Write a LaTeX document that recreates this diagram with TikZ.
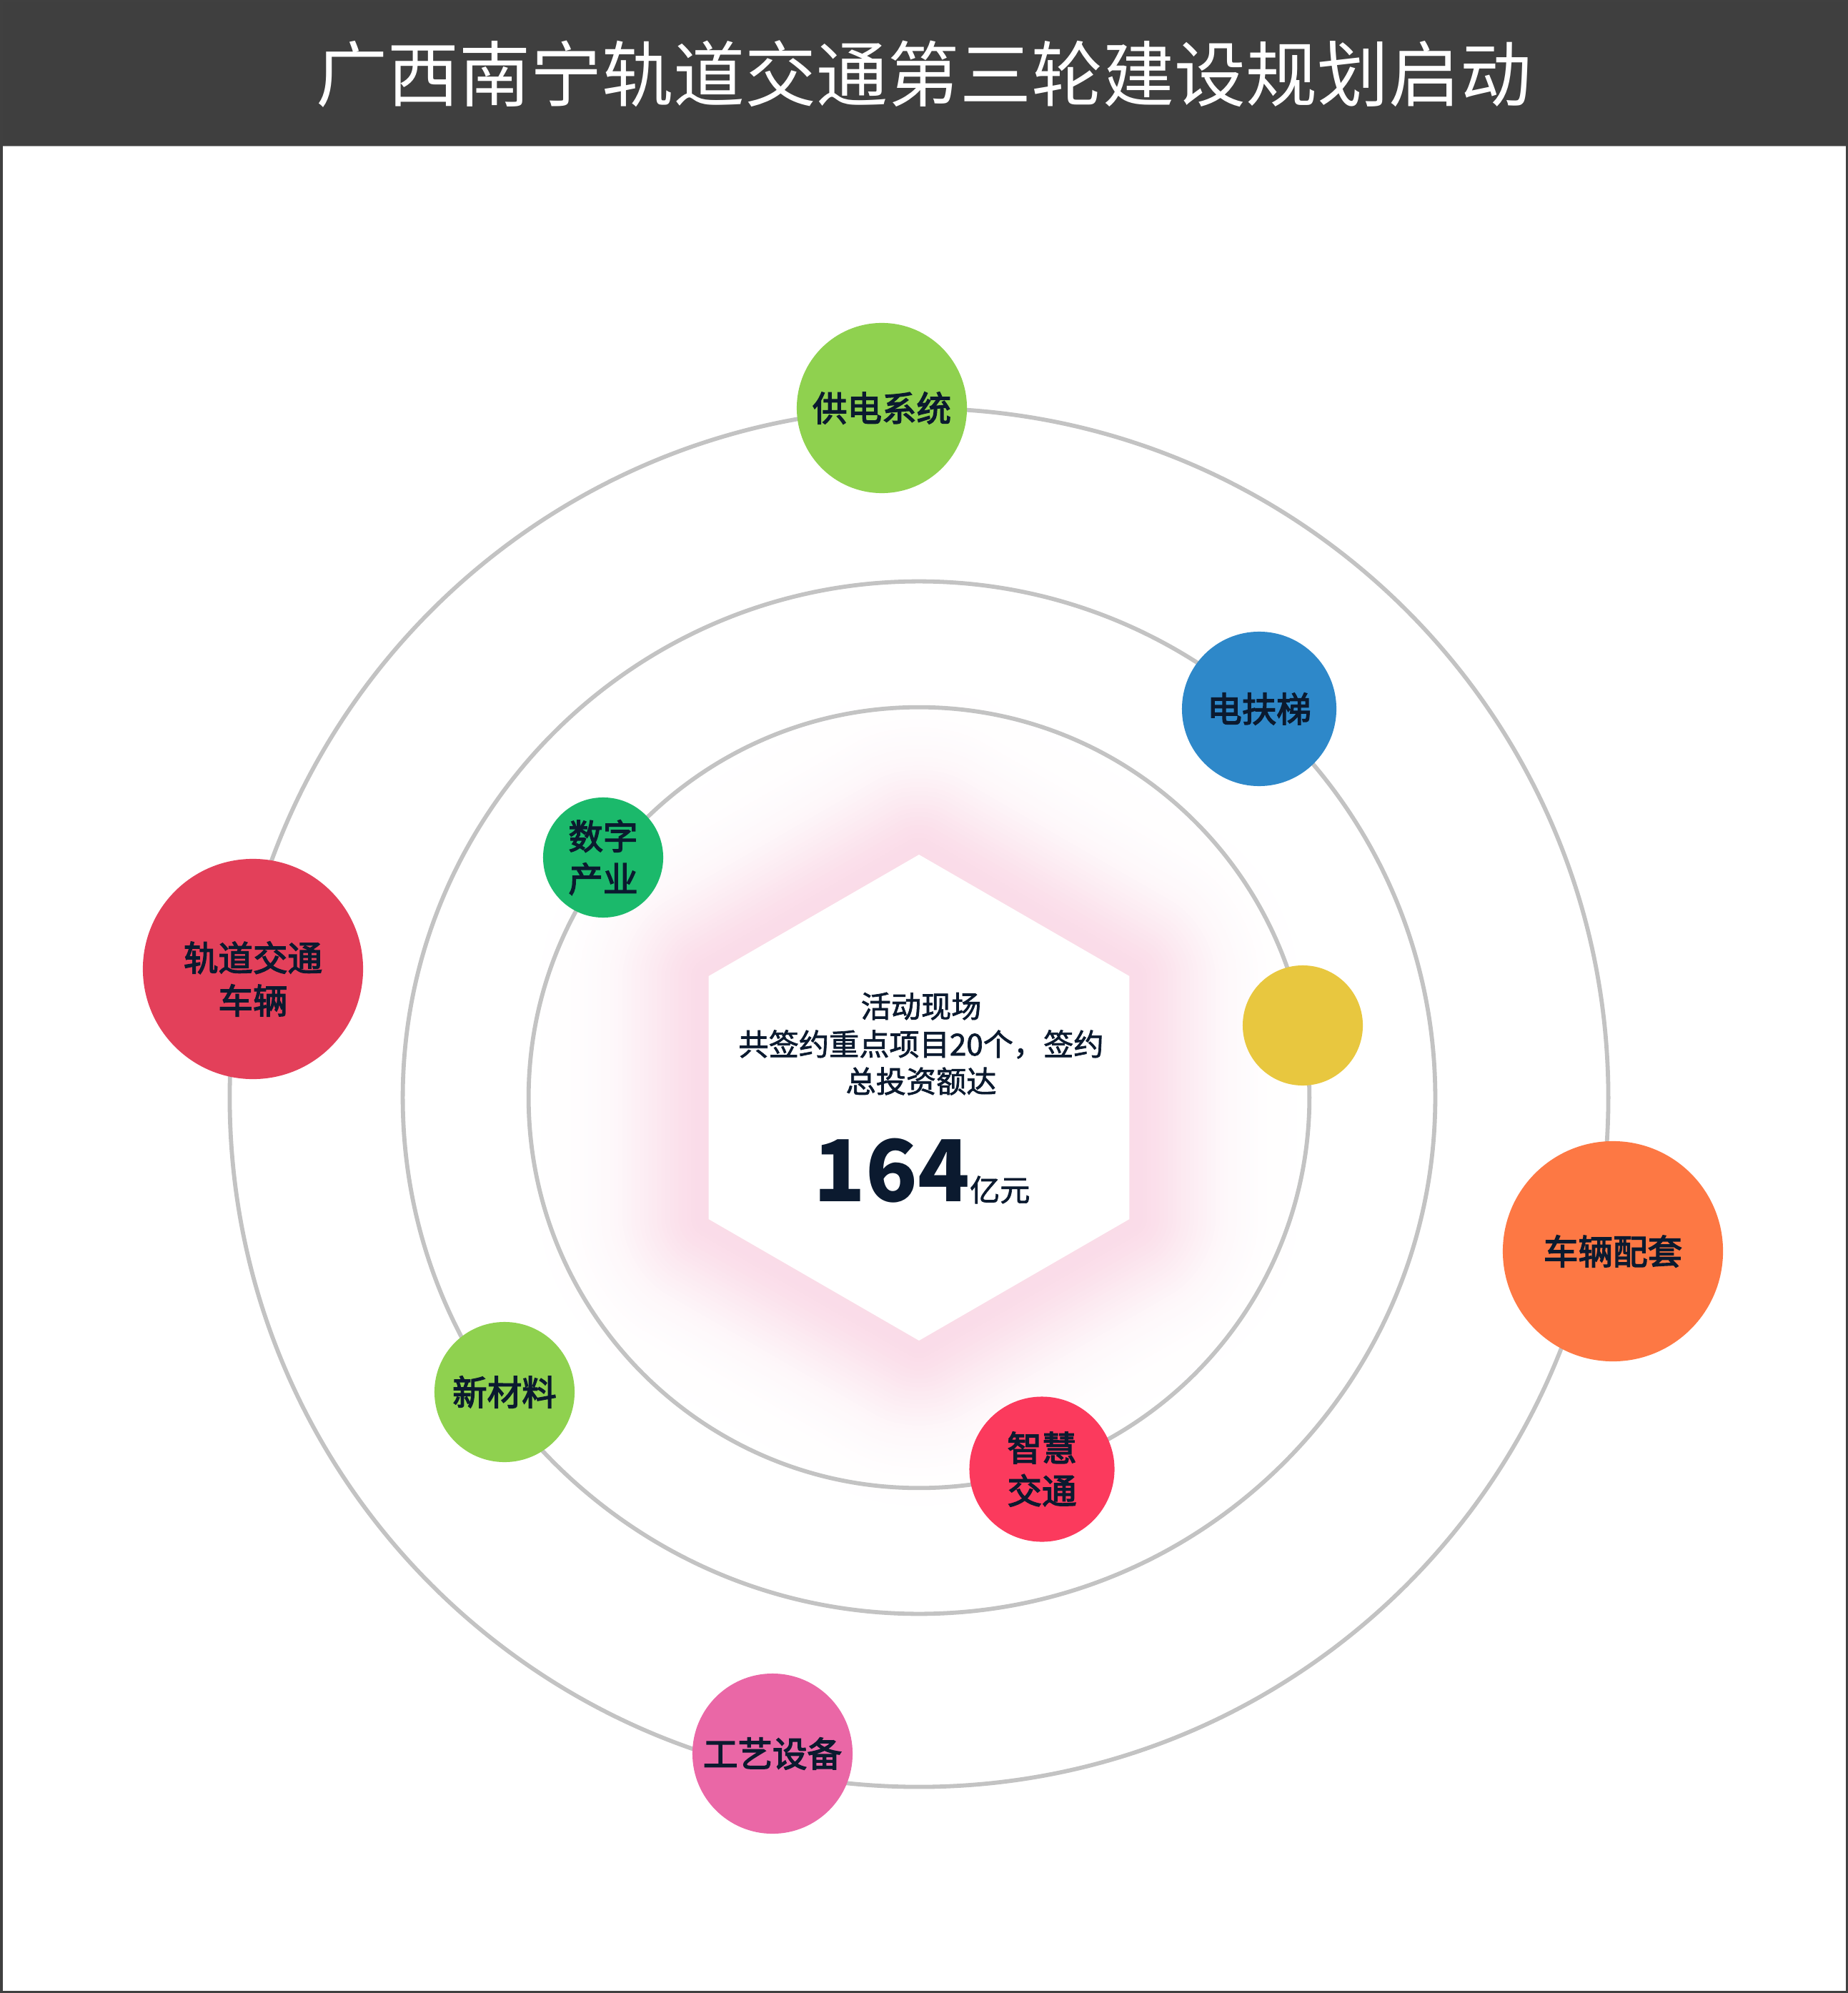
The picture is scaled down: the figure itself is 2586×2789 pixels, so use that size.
\documentclass[tikz,border=0pt]{standalone}
\usepackage{fontspec}
\newfontfamily\cjk{Noto Sans CJK SC}
\newfontfamily\cjkl[FakeBold=3]{Noto Sans CJK SC}
\newfontfamily\cjkc[FakeBold=1.6]{Noto Sans CJK SC}
\usetikzlibrary{calc}
\definecolor{hdr}{HTML}{3F3F3F}
\definecolor{framegray}{HTML}{404040}
\definecolor{ringgray}{HTML}{C3C3C3}
\definecolor{navy}{HTML}{0B1A2F}
\definecolor{glowpink}{HTML}{F090B8}
\definecolor{cLime}{HTML}{8FD14F}
\definecolor{cBlue}{HTML}{2E88C9}
\definecolor{cGreen}{HTML}{1BB96B}
\definecolor{cRed}{HTML}{E3405A}
\definecolor{cYellow}{HTML}{E8C73F}
\definecolor{cOrange}{HTML}{FD7844}
\definecolor{cRose}{HTML}{FB3A5D}
\definecolor{cPink}{HTML}{EA67A6}
\begin{document}
\begin{tikzpicture}[x=0.01cm,y=-0.01cm,
  ring/.style={draw=ringgray, line width=0.058cm},
  ball/.style={circle, inner sep=0pt, text=navy, align=center,
    font=\cjkl\fontsize{13.8pt}{17pt}\selectfont},
  lbl/.style={inner sep=0pt, text=navy, align=center,
    font=\cjkl\fontsize{13.8pt}{17pt}\selectfont},
  ctext/.style={inner sep=0pt, text=navy, font=\cjkc\fontsize{12pt}{15pt}\selectfont}]
\useasboundingbox (0,0) rectangle (2586,2789);
\fill[white] (0,0) rectangle (2586,2789);
% header
\fill[hdr] (0,0) rectangle (2586,205);
\draw[gray!70, line width=0.01cm] (0,205) -- (2586,205);
\node[inner sep=0pt, text=white, font=\cjk\fontsize{28.45pt}{34pt}\selectfont] (title) at (1293,104) {广西南宁轨道交通第三轮建设规划启动};
% glow
\coordinate (c) at (1286,1536);
\begin{scope}[shift={(c)}]
\foreach \i in {40,39,...,1} {
  \pgfmathsetmacro\dd{\i*6}
  \pgfmathsetmacro\rr{340+1.155*\dd}
  \pgfmathsetmacro\pp{32*exp(-(\dd/110)^2)}
  \pgfmathsetmacro\rc{0.577*\dd*0.01}
  \fill[glowpink!\pp!white, rounded corners=\rc cm]
    (90:\rr) -- (150:\rr) -- (210:\rr) -- (270:\rr) -- (330:\rr) -- (30:\rr) -- cycle;
}
\end{scope}
% rings
\draw[ring] (c) circle[radius=9.64cm];
\draw[ring] (c) circle[radius=7.22cm];
\draw[ring] (c) circle[radius=5.46cm];
% hexagon
\begin{scope}[shift={(c)}]
\fill[white] (90:340) -- (150:340) -- (210:340) -- (270:340) -- (330:340) -- (30:340) -- cycle;
\end{scope}
% centre text
\node[ctext, anchor=base] (t1) at (1289,1424) {活动现场};
\node[ctext, anchor=base] (t2) at (1289,1477) {共签约重点项目20个，签约};
\node[ctext, anchor=base] (t3) at (1289,1529) {总投资额达};
\node[ctext, anchor=base] (num) at (1290,1681) {{\cjk\bfseries\fontsize{34pt}{40pt}\selectfont 164}亿元};
% nodes
\node[ball, fill=cLime, minimum size=2.38cm] (gongdian) at (1234,571) {供电系统};
\node[ball, fill=cBlue, minimum size=2.16cm] (futi) at (1762,992) {电扶梯};
\node[ball, fill=cGreen, minimum size=1.68cm] (shuzi) at (844,1200) {数字\\产业};
\node[ball, fill=cRed, minimum size=3.08cm] (guidao) at (354,1356) {};
\node[lbl] (guidaot) at ($(guidao)+(0,14)$) {轨道交通\\车辆};
\node[ball, fill=cYellow, minimum size=1.68cm] (yellow) at (1823,1435) {};
\node[ball, fill=cOrange, minimum size=3.08cm] (peitao) at (2257,1751) {车辆配套};
\node[ball, fill=cLime, minimum size=1.96cm] (xincai) at (706,1948) {新材料};
\node[ball, fill=cRose, minimum size=2.03cm] (zhihui) at (1458,2056) {智慧\\交通};
\node[ball, fill=cPink, minimum size=2.24cm] (gongyi) at (1081,2454) {工艺设备};
% frame
\draw[framegray, line width=0.035cm] (1.75,1.75) rectangle (2584.25,2787.25);
\end{tikzpicture}
\end{document}
